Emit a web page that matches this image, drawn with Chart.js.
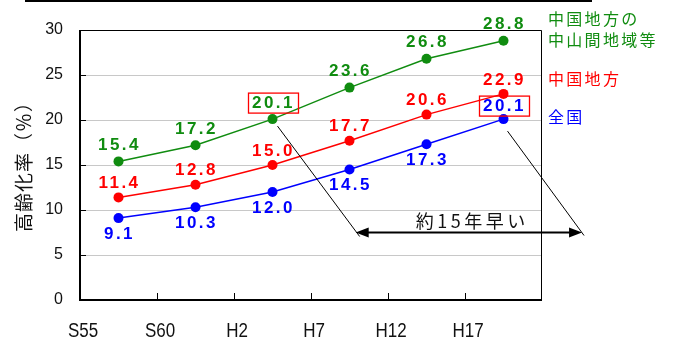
<!DOCTYPE html>
<html lang="ja">
<head>
<meta charset="utf-8">
<script src="https://cdn.jsdelivr.net/npm/chart.js@4.4.1/dist/chart.umd.min.js"></script>
<style>
  html, body { margin: 0; padding: 0; background: #fff; }
  #wrap { width: 674px; height: 341px; position: relative; }
</style>
</head>
<body>
<div id="wrap"><canvas id="c" width="674" height="341"></canvas></div>
<script>
// 年次（国勢調査）
const periods = ['S55', 'S60', 'H2', 'H7', 'H12', 'H17'];

// 高齢化率（%）
const chugokuChusankan = [15.4, 17.2, 20.1, 23.6, 26.8, 28.8];
const chugoku = [11.4, 12.8, 15.0, 17.7, 20.6, 22.9];
const zenkoku = [9.1, 10.3, 12.0, 14.5, 17.3, 20.1];

const yTicks = [0, 5, 10, 15, 20, 25, 30];

const GREEN = '#108c10';
const RED = '#ff0000';
const BLUE = '#0000ff';

const CJK = '"Noto Sans CJK JP", "Noto Sans", sans-serif';
const LAT = '"Liberation Sans", Arial, sans-serif';

function setSpacing(ctx, px) {
  if ('letterSpacing' in ctx) ctx.letterSpacing = px + 'px';
}

// 枠線・目盛り・横軸ラベル・縦軸タイトル・系列名
const framePlugin = {
  id: 'frame',
  beforeDatasetsDraw(chart) {
    const { ctx, chartArea: a, scales: { x, y } } = chart;
    ctx.save();
    ctx.strokeStyle = '#000';
    // 上・右の枠
    ctx.lineWidth = 1;
    ctx.beginPath();
    ctx.moveTo(a.left, a.top + 0.5);
    ctx.lineTo(a.right - 0.5, a.top + 0.5);
    ctx.lineTo(a.right - 0.5, a.bottom);
    ctx.stroke();
    // 内向きの目盛り
    const step = x.getPixelForValue(1) - x.getPixelForValue(0);
    ctx.beginPath();
    for (let i = 1; i < periods.length; i++) {
      const px = Math.round(x.getPixelForValue(i) - step / 2) + 0.5;
      ctx.moveTo(px, a.bottom);
      ctx.lineTo(px, a.bottom - 7);
    }
    yTicks.forEach(v => {
      if (v === 0 || v === 30) return;
      const py = Math.round(y.getPixelForValue(v)) + 0.5;
      ctx.moveTo(a.left, py);
      ctx.lineTo(a.left + 6, py);
    });
    ctx.stroke();
    // 左軸・下軸
    ctx.lineWidth = 2;
    ctx.beginPath();
    ctx.moveTo(a.left, a.top);
    ctx.lineTo(a.left, a.bottom);
    ctx.lineTo(a.right, a.bottom);
    ctx.stroke();
    ctx.restore();
  },
  afterDraw(chart) {
    const { ctx, chartArea: a, scales: { x } } = chart;
    ctx.save();
    // 上部の罫線
    ctx.fillStyle = '#000';
    ctx.fillRect(25, 0, 567, 2);

    // 横軸ラベル（区切り位置）
    const step = x.getPixelForValue(1) - x.getPixelForValue(0);
    ctx.fillStyle = '#111';
    ctx.font = '20px ' + LAT;
    ctx.textAlign = 'center';
    ctx.textBaseline = 'middle';
    periods.forEach((lab, i) => {
      const px = x.getPixelForValue(i) - step / 2 + 3;
      ctx.save();
      ctx.translate(px, 331);
      ctx.scale(0.85, 1);
      ctx.fillText(lab, 0, 0);
      ctx.restore();
    });

    // 縦軸タイトル
    ctx.save();
    ctx.translate(24, 162);
    ctx.rotate(-Math.PI / 2);
    ctx.font = '19px ' + CJK;
    setSpacing(ctx, 1);
    ctx.fillStyle = '#111';
    ctx.fillText('高齢化率（％）', 0, 0);
    setSpacing(ctx, 0);
    ctx.restore();

    // 系列名
    ctx.font = '16px ' + CJK;
    ctx.textAlign = 'left';
    setSpacing(ctx, 2.3);
    const names = [
      ['中国地方の', GREEN, 19],
      ['中山間地域等', GREEN, 40],
      ['中国地方', RED, 79],
      ['全国', BLUE, 117]
    ];
    names.forEach(([t, c, py]) => {
      ctx.fillStyle = c;
      ctx.fillText(t, 548, py);
    });
    setSpacing(ctx, 0);
    ctx.restore();
  }
};

// 数値ラベルと注記
const labelPlugin = {
  id: 'valueLabels',
  afterDatasetsDraw(chart) {
    const { ctx, scales: { x, y } } = chart;
    ctx.save();
    ctx.font = 'bold 17px ' + LAT;
    ctx.textAlign = 'center';
    ctx.textBaseline = 'middle';
    setSpacing(ctx, 2.5);

    const boxed = { 0: [2], 2: [5] };
    const gap = { 0: -16, 1: -14, 2: 16 };
    chart.data.datasets.forEach((ds, di) => {
      const meta = chart.getDatasetMeta(di);
      meta.data.forEach((pt, i) => {
        const v = ds.data[i];
        const txt = v.toFixed(1);
        const isBoxed = (boxed[di] || []).includes(i);
        let dy = gap[di];
        if (di === 2 && isBoxed) dy = -13;
        const cx = pt.x + 1;
        const cy = pt.y + dy;
        ctx.fillStyle = ds.borderColor;
        ctx.fillText(txt, cx, cy);
        if (isBoxed) {
          ctx.strokeStyle = RED;
          ctx.lineWidth = 1.3;
          ctx.strokeRect(cx - 25, cy - 10, 50, 20);
        }
      });
    });
    setSpacing(ctx, 0);

    // 約15年早い
    const g = chart.getDatasetMeta(0).data[2];
    const b = chart.getDatasetMeta(2).data[5];
    const step = x.getPixelForValue(1) - x.getPixelForValue(0);
    const ay = y.getPixelForValue(7.5);
    const leftX = g.x + 1.08 * step;
    const rightX = b.x + 1.02 * step;

    ctx.strokeStyle = '#000';
    ctx.lineWidth = 1;
    ctx.beginPath();
    ctx.moveTo(g.x + 5, g.y + 7);
    ctx.lineTo(leftX + 4, ay + 4);
    ctx.moveTo(b.x + 4, b.y + 12);
    ctx.lineTo(rightX + 2, ay + 3);
    ctx.stroke();

    ctx.lineWidth = 2;
    ctx.beginPath();
    ctx.moveTo(leftX + 8, ay);
    ctx.lineTo(rightX - 8, ay);
    ctx.stroke();
    ctx.fillStyle = '#000';
    ctx.beginPath();
    ctx.moveTo(leftX, ay);
    ctx.lineTo(leftX + 13, ay - 5);
    ctx.lineTo(leftX + 13, ay + 5);
    ctx.closePath();
    ctx.fill();
    ctx.beginPath();
    ctx.moveTo(rightX, ay);
    ctx.lineTo(rightX - 13, ay - 5);
    ctx.lineTo(rightX - 13, ay + 5);
    ctx.closePath();
    ctx.fill();

    ctx.font = '18px ' + CJK;
    ctx.textAlign = 'center';
    setSpacing(ctx, 3.5);
    ctx.fillStyle = '#111';
    ctx.fillText('約15年早い', (leftX + rightX) / 2 + 3.5, ay - 11);
    setSpacing(ctx, 0);
    ctx.restore();
  }
};

function series(label, data, color) {
  return {
    label,
    data,
    borderColor: color,
    backgroundColor: color,
    pointBackgroundColor: color,
    pointBorderColor: color,
    borderWidth: 1.5,
    pointRadius: 5,
    pointBorderWidth: 0,
    tension: 0
  };
}

new Chart(document.getElementById('c'), {
  type: 'line',
  data: {
    labels: periods,
    datasets: [
      series('中国地方の中山間地域等', chugokuChusankan, GREEN),
      series('中国地方', chugoku, RED),
      series('全国', zenkoku, BLUE)
    ]
  },
  options: {
    responsive: false,
    animation: false,
    devicePixelRatio: 1,
    layout: { padding: { left: 0, top: 30, right: 132, bottom: 0 } },
    plugins: { legend: { display: false }, tooltip: { enabled: false } },
    scales: {
      x: {
        type: 'category',
        offset: true,
        grid: { display: false, drawTicks: false },
        border: { display: false },
        ticks: { display: false },
        afterFit(s) { s.height = 41; }
      },
      y: {
        min: 0,
        max: 30,
        afterBuildTicks(s) { s.ticks = yTicks.map(v => ({ value: v })); },
        grid: { color: '#c8c8c8', lineWidth: 1, drawTicks: false },
        border: { display: false },
        ticks: {
          padding: 17,
          color: '#111',
          font: { family: LAT, size: 16 }
        },
        afterFit(s) { s.width = 80; }
      }
    }
  },
  plugins: [framePlugin, labelPlugin]
});
</script>
</body>
</html>
